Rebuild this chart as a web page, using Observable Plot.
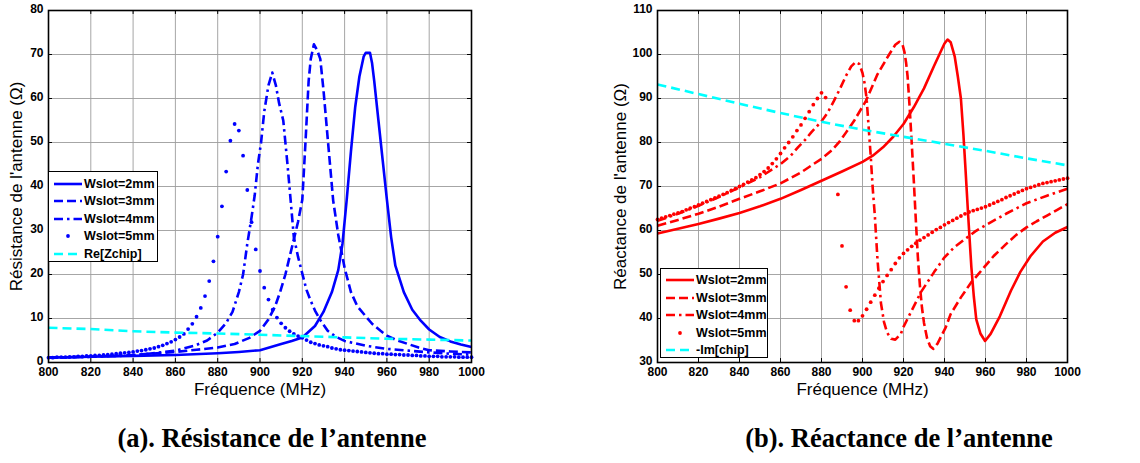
<!DOCTYPE html>
<html>
<head>
<meta charset="utf-8">
<script src="https://cdn.jsdelivr.net/npm/d3@7"></script>
<script src="https://cdn.jsdelivr.net/npm/@observablehq/plot@0.6"></script>
<style>
  html, body { margin: 0; padding: 0; background: #fff; }
  #page { position: relative; width: 1140px; height: 463px; overflow: hidden; background: #fff; font-family: "Liberation Sans", Arial, sans-serif; }
  .panel { position: absolute; top: 0; }
  .legend { position: absolute; background: #fff; border: 1.3px solid #000; box-sizing: border-box; }
  .legend .row { position: absolute; left: 0; height: 16px; display: flex; align-items: center; }
  .legend .row span { font: bold 12.5px "Liberation Sans", Arial, sans-serif; color: #000; white-space: nowrap; margin-left: 1px; }
  .caption { position: absolute; top: 423px; font: bold 26.5px "Liberation Serif", "Times New Roman", serif; color: #000; transform: translateX(-50%); white-space: nowrap; }
</style>
</head>
<body>
<div id="page">
  <div id="left" class="panel" style="left:0px"></div>
  <div id="right" class="panel" style="left:560px"></div>
  <div class="caption" style="left:272px">(a). Résistance de l’antenne</div>
  <div class="caption" style="left:899px">(b). Réactance de l’antenne</div>
</div>
<script>
// ---------------- data ----------------
const xTicks = [800, 820, 840, 860, 880, 900, 920, 940, 960, 980, 1000];
const yTicksRes = [0, 10, 20, 30, 40, 50, 60, 70, 80];
const yTicksReac = [30, 40, 50, 60, 70, 80, 90, 100, 110];
const seriesNames = ["Wslot=2mm", "Wslot=3mm", "Wslot=4mm", "Wslot=5mm"];
const chipNameRes = "Re[Zchip]";
const chipNameReac = "-Im[chip]";

// (a) Résistance
const fR2 = [800,820,840,860,880,890,900,910,915,920,926,930,934,937,939,941,943,945,947,949,950,952,953,954,956,958,960,962,964,968,972,976,980,985,990,995,1000];
const vR2 = [1.1,1.3,1.5,1.7,2.1,2.4,2.8,4.2,4.9,5.7,8.3,11.5,16,21,27,37,48,58,65,69.5,70.4,70.4,68,64,55,46,37,28.5,22,16,12,9.5,7.5,5.8,4.8,4.1,3.5];
const fR3 = [800,820,840,860,870,880,888,895,900,904,907,909.5,912,915,918,920,921.5,923,924,925.5,927,928.5,930,932,934.6,937,940,943,946,950,953,957,960,965,970,975,980,990,1000];
const vR3 = [1.1,1.3,1.7,2.4,2.9,3.4,4.2,5.6,7.2,9.8,12.6,16,20,26,32,37,50,64,69,72.3,71,69,62,51,36.8,29,21.5,16,12.8,10.5,8.8,7.2,6.1,5,4.2,3.4,2.8,2.5,2.3];
const fR4 = [800,820,840,860,869,875,880,884,887,890,892,894,896,897.5,899,900.5,902,904,905.8,907.5,909,911,913,914.5,916,918,920,922,924,926,928.6,932,936,940,950,960,970,980,990,1000];
const vR4 = [1.1,1.3,1.6,2.7,3.8,5,6.8,9,11.5,16,20,27,33,38,45,50,57,63,65.9,63,59,55,45,36.8,28.5,24,20.2,16.5,14,11.8,9.6,7.2,5.8,4.9,3.8,3.1,2.7,2.3,2.0,1.8];
const fR5 = d3.range(800, 1001, 2);
const vR5 = [
  1.1,1.1,1.2,1.2,1.2,1.3,1.3,1.4,1.4,1.5,
  1.5,1.6,1.6,1.7,1.8,1.9,2.0,2.1,2.2,2.3,
  2.4,2.6,2.7,2.9,3.1,3.3,3.6,3.9,4.3,4.7,
  5.2,5.8,6.5,7.6,8.8,10.4,12.4,15.1,18.5,23.0,
  28.6,35.5,43.4,50.4,54.2,52.7,47.0,39.2,31.9,25.7,
  20.8,17.0,14.3,12.0,10.2,8.9,7.9,7.1,6.5,6.0,
  5.6,5.1,4.6,4.3,4.0,3.8,3.6,3.3,3.1,2.9,
  2.8,2.7,2.6,2.5,2.4,2.3,2.2,2.1,2.0,2.0,
  1.9,1.9,1.8,1.8,1.7,1.7,1.6,1.6,1.5,1.5,
  1.4,1.4,1.4,1.3,1.3,1.3,1.3,1.2,1.2,1.2,
  1.2];
const fRc = [800,820,840,860,880,900,920,940,960,980,1000];
const vRc = [7.9,7.6,7.1,6.8,6.6,6.3,6.0,5.7,5.4,5.2,5.0];

// (b) Réactance
const fX2 = [800,810,820,830,840,850,860,870,880,890,900,905,910,915,920,925,930,935,938,940,941.5,943,945,946.5,948,949.2,950.2,951.6,953.1,954.3,955.5,957.5,959.8,962.5,967,972.4,977,982,988,994,1000];
const vX2 = [59.3,60.4,61.5,62.7,64.0,65.5,67.2,69.2,71.3,73.4,75.6,77.0,78.9,81.3,84.2,88.0,92.3,97.5,100.5,102.5,103.4,102.8,99.5,95,90,82,74.3,63,51.7,45,39.8,36.6,34.9,36.5,40.5,46.3,50.6,54.2,57.5,59.5,60.8];
const fX3 = [800,810,820,830,840,850,860,870,880,885,889,892,896,901.6,907.3,913,916,918,919.5,920.5,921.3,922,923,924,925,926,927,928,929,930,931.5,933,934.5,936.6,940.6,943,948,953,956,960,964,970,975,980,985,990,995,1000];
const vX3 = [61.1,62.4,63.8,65.4,67.2,68.9,70.7,73.2,76.3,78.2,80.3,82.3,85.0,89.4,95.5,100,102.2,102.9,102.3,100.5,98,95,88,80,71.5,62.5,54,47.5,42.5,39,35.5,33.7,33.1,34.3,38,41,44.8,48.2,49.8,52,54.2,56.9,59,60.7,62.1,63.4,64.7,66];
const fX4 = [800,810,820,830,840,850,860,865,868.5,872,875,880,883,886,889,892,894.5,896.7,898.5,900,901,902,903,904,905,906,907.3,909,910.5,912,914,916,918.7,920,924,928.5,935,940,945,951,955,960,970,980,990,1000];
const vX4 = [62.2,63.8,65.6,67.6,69.8,72.1,75.1,77,78.9,80.6,82.3,84.8,86.8,89.4,92.2,95.2,97.3,98.3,97.8,95.8,93.5,90,83.5,77,69.5,63.5,53.5,43.5,39.2,36.8,35.4,35.2,36.5,38.1,41.8,46,50.6,53.9,56.3,58.4,59.8,61.2,63.8,66.2,67.9,69.5];
const fX5 = d3.range(800, 1001, 2);
const vX5 = [
  62.5,62.8,63.1,63.4,63.7,64.0,64.3,64.7,65.1,65.4,
  65.8,66.2,66.6,67.0,67.4,67.8,68.2,68.6,69.1,69.5,
  70.0,70.5,71.0,71.5,72.0,72.7,73.4,74.2,75.2,76.3,
  77.5,78.8,80.0,81.3,82.7,84.0,85.5,87.0,88.6,90.0,
  91.3,90.2,null,null,68.2,56.5,47.2,41.9,39.5,39.5,
  40.6,42.1,43.7,45.3,46.9,48.4,49.8,51.1,52.5,53.8,
  54.8,55.6,56.4,57.1,57.8,58.4,59.0,59.6,60.2,60.7,
  61.3,61.8,62.3,62.8,63.3,63.8,64.2,64.5,64.8,65.1,
  65.4,65.8,66.2,66.6,67.0,67.5,67.9,68.3,68.7,69.1,
  69.5,69.8,70.1,70.4,70.7,70.9,71.1,71.3,71.5,71.7,
  71.9];
const fXc = [800,820,840,860,880,900,920,940,960,980,1000];
const vXc = [93.2,91.0,88.8,86.7,84.7,82.9,81.3,79.7,78.1,76.4,74.8];

// --------------- styles ---------------
const LW = 2.6;
const styles = [
  {type: "line", dash: null},
  {type: "line", dash: "9,4"},
  {type: "line", dash: "9,4,2.5,4"},
  {type: "dot"},
  {type: "line", dash: "9,5", chip: true}
];

const zip = (f, v) => f.map((x, i) => ({f: x, v: v[i]})).filter(d => d.v != null);

function makeChart(opts) {
  const {el, width, mL, mR, yDomain, yTicks, color, seriesData, ylabel, ylabelDx, legendPos, names} = opts;
  const mT = 10, mB = 38, height = 405;
  const pxX = (width - mL - mR) / 200;
  const pxY = (height - mT - mB) / (yDomain[1] - yDomain[0]);
  const tx = 4 / pxX, ty = 4 / pxY;
  const [y0, y1] = yDomain;
  const marks = [
    Plot.ruleX(xTicks.slice(1, -1), {x: d => d, y1: y0, y2: y1, stroke: "#9c9c9c", strokeWidth: 0.9}),
    Plot.ruleY(yTicks.slice(1, -1), {y: d => d, x1: 800, x2: 1000, stroke: "#9c9c9c", strokeWidth: 0.9}),
    Plot.ruleX(xTicks, {x: d => d, y1: y0, y2: y0 + ty, stroke: "#000", strokeWidth: 1}),
    Plot.ruleX(xTicks, {x: d => d, y1: y1, y2: y1 - ty, stroke: "#000", strokeWidth: 1}),
    Plot.ruleY(yTicks, {y: d => d, x1: 800, x2: 800 + tx, stroke: "#000", strokeWidth: 1}),
    Plot.ruleY(yTicks, {y: d => d, x1: 1000, x2: 1000 - tx, stroke: "#000", strokeWidth: 1})
  ];
  seriesData.forEach((data, i) => {
    const s = styles[i];
    const c = s.chip ? "#00FFFF" : color;
    if (s.type === "dot") {
      marks.push(Plot.dot(data, {x: "f", y: "v", r: 1.9, fill: c, stroke: "none"}));
    } else {
      marks.push(Plot.line(data, {x: "f", y: "v", stroke: c, strokeWidth: LW, strokeDasharray: s.dash, strokeLinejoin: "round", strokeLinecap: "butt"}));
    }
  });
  marks.push(Plot.frame({stroke: "#000", strokeWidth: 1.6}));
  marks.push(Plot.text(xTicks, {x: d => d, frameAnchor: "bottom", dy: 13.5, text: d => String(d), fontWeight: "bold", fontSize: 12, fill: "#000"}));
  marks.push(Plot.text(yTicks, {y: d => d, frameAnchor: "left", dx: -5, dy: -1.5, textAnchor: "end", text: d => String(d), fontWeight: "bold", fontSize: 12, fill: "#000"}));
  marks.push(Plot.text(["Fréquence (MHz)"], {frameAnchor: "bottom", dy: 32, fontSize: 17, fill: "#000"}));
  marks.push(Plot.text([ylabel], {frameAnchor: "left", textAnchor: "middle", rotate: -90, dx: ylabelDx, fontSize: 17, fill: "#000"}));

  const svg = Plot.plot({
    width, height,
    marginLeft: mL, marginRight: mR, marginTop: mT, marginBottom: mB + 5,
    x: {domain: [800, 1000], axis: null},
    y: {domain: yDomain, axis: null},
    style: {fontFamily: "Liberation Sans, Arial, sans-serif", background: "transparent", overflow: "visible"},
    marks
  });
  el.appendChild(svg);

  // legend
  const lg = document.createElement("div");
  lg.className = "legend";
  lg.style.left = legendPos.left + "px";
  lg.style.top = legendPos.top + "px";
  lg.style.width = legendPos.w + "px";
  lg.style.height = legendPos.h + "px";
  names.forEach((name, i) => {
    const s = styles[i];
    const c = s.chip ? "#00FFFF" : color;
    const row = document.createElement("div");
    row.className = "row";
    row.style.top = (legendPos.first + i * legendPos.step - 8) + "px";
    const ns = "http://www.w3.org/2000/svg";
    const sv = document.createElementNS(ns, "svg");
    sv.setAttribute("width", 34); sv.setAttribute("height", 16);
    if (s.type === "dot") {
      const ci = document.createElementNS(ns, "circle");
      ci.setAttribute("cx", 19); ci.setAttribute("cy", 8); ci.setAttribute("r", 1.9); ci.setAttribute("fill", c);
      sv.appendChild(ci);
    } else {
      const ln = document.createElementNS(ns, "line");
      ln.setAttribute("x1", 5); ln.setAttribute("x2", 33); ln.setAttribute("y1", 8); ln.setAttribute("y2", 8);
      ln.setAttribute("stroke", c); ln.setAttribute("stroke-width", LW);
      if (s.dash) ln.setAttribute("stroke-dasharray", s.dash);
      sv.appendChild(ln);
    }
    row.appendChild(sv);
    const sp = document.createElement("span");
    sp.textContent = name;
    row.appendChild(sp);
    lg.appendChild(row);
  });
  el.appendChild(lg);
}

makeChart({
  el: document.getElementById("left"),
  width: 500, mL: 48, mR: 29,
  yDomain: [0, 80], yTicks: yTicksRes, color: "#0000FF",
  seriesData: [zip(fR2, vR2), zip(fR3, vR3), zip(fR4, vR4), zip(fR5, vR5), zip(fRc, vRc)],
  ylabel: "Résistance de l'antenne (Ω)", ylabelDx: -32,
  legendPos: {left: 48, top: 171, w: 110, h: 91, first: 12, step: 17.4},
  names: [...seriesNames, chipNameRes]
});
makeChart({
  el: document.getElementById("right"),
  width: 540, mL: 97, mR: 33,
  yDomain: [30, 110], yTicks: yTicksReac, color: "#FF0000",
  seriesData: [zip(fX2, vX2), zip(fX3, vX3), zip(fX4, vX4), zip(fX5, vX5), zip(fXc, vXc)],
  ylabel: "Réactance de l'antenne (Ω)", ylabelDx: -37,
  legendPos: {left: 100, top: 268, w: 108, h: 90, first: 11, step: 17.5},
  names: [...seriesNames, chipNameReac]
});
</script>
</body>
</html>
